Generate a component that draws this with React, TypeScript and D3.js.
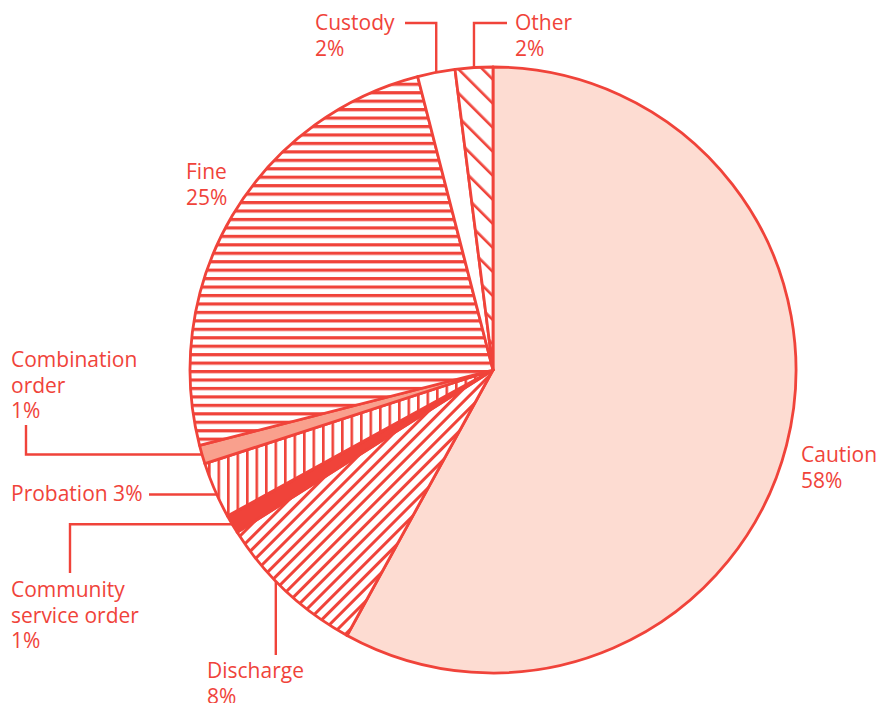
import React from "react";
import * as d3 from "d3";

const categories = ["Caution", "Discharge", "Community service order", "Probation", "Combination order", "Fine", "Custody", "Other"];
const values = [58, 8, 1, 3, 1, 25, 2, 2];
const labelLines = [
  ["Caution", "58%"],
  ["Discharge", "8%"],
  ["Community", "service order", "1%"],
  ["Probation 3%"],
  ["Combination", "order", "1%"],
  ["Fine", "25%"],
  ["Custody", "2%"],
  ["Other", "2%"],
];

const RED = "#f0433a";
const fills = [
  "#fddcd2",
  "url(#pDischarge)",
  RED,
  "url(#pProbation)",
  "#f9a08d",
  "url(#pFine)",
  "#ffffff",
  "url(#pOther)",
];

type Layout = { x: number; y: number; leader?: string; frac?: number; p?: number[] };
const layouts: Layout[] = [
  { x: 801, y: 462 },
  { x: 207, y: 678, leader: "vUp", frac: 0.59, p: [655] },
  { x: 11, y: 597, leader: "elbowUp", frac: 0.5, p: [70, 573] },
  { x: 11, y: 501, leader: "h", frac: 0.42, p: [149] },
  { x: 11, y: 367, leader: "elbowDown", frac: 0.5, p: [26, 425] },
  { x: 186, y: 179 },
  { x: 315, y: 30, leader: "top", frac: 0.5, p: [405, 23] },
  { x: 515, y: 30, leader: "top", frac: 0.5, p: [507, 23] },
];

const CX = 493, CY = 370, R = 303;

export default function App() {
  const pie = d3.pie<number>().sort(null).value((d) => d);
  const arcs = pie(values);
  const arc = d3.arc<d3.PieArcDatum<number>>().innerRadius(0).outerRadius(R);
  const pt = (a: number) => [CX + R * Math.sin(a), CY - R * Math.cos(a)];

  const leaders = arcs.map((a, i) => {
    const L = layouts[i];
    if (!L.leader) return null;
    const ang = a.startAngle + (a.endAngle - a.startAngle) * (L.frac ?? 0.5);
    const [ax, ay] = pt(ang);
    const p = L.p!;
    let pts: number[][] = [];
    if (L.leader === "top") pts = [[p[0], p[1]], [ax, p[1]], [ax, ay]];
    else if (L.leader === "vUp") pts = [[ax, p[0]], [ax, ay]];
    else if (L.leader === "h") pts = [[p[0], ay], [ax, ay]];
    else pts = [[p[0], p[1]], [p[0], ay], [ax, ay]];
    return <polyline key={i} points={pts.map((q) => q.join(",")).join(" ")} fill="none" stroke={RED} strokeWidth={2.4} />;
  });

  return (
    <svg width={880} height={703} style={{ position: "absolute", left: 0, top: 0 }} fontFamily="'Open Sans', sans-serif">
      <defs>
        <pattern id="pFine" patternUnits="userSpaceOnUse" width={20} height={8.45}>
          <rect width={20} height={8.45} fill="#fff" />
          <rect y={0} width={20} height={3.2} fill={RED} />
        </pattern>
        <pattern id="pProbation" patternUnits="userSpaceOnUse" width={9.5} height={20}>
          <rect width={9.5} height={20} fill="#fff" />
          <rect x={0} width={2.6} height={20} fill={RED} />
        </pattern>
        <pattern id="pDischarge" patternUnits="userSpaceOnUse" width={9} height={20} patternTransform="rotate(45)">
          <rect width={9} height={20} fill="#fff" />
          <rect x={0} width={3} height={20} fill={RED} />
        </pattern>
        <pattern id="pOther" patternUnits="userSpaceOnUse" width={17} height={20} patternTransform="rotate(-45)">
          <rect width={17} height={20} fill="#fff" />
          <rect x={0} width={2.6} height={20} fill={RED} />
        </pattern>
      </defs>
      <g transform={`translate(${CX},${CY})`}>
        {arcs.map((a, i) => (
          <path key={categories[i]} d={arc(a) || ""} fill={fills[i]} stroke={RED} strokeWidth={2.8} strokeLinejoin="round" />
        ))}
      </g>
      {leaders}
      {labelLines.map((lines, i) => (
        <text key={i} x={layouts[i].x} y={layouts[i].y} fill={RED} fontSize={21}>
          {lines.map((l, j) => (
            <tspan key={j} x={layouts[i].x} dy={j === 0 ? 0 : 25.5}>{l}</tspan>
          ))}
        </text>
      ))}
    </svg>
  );
}
